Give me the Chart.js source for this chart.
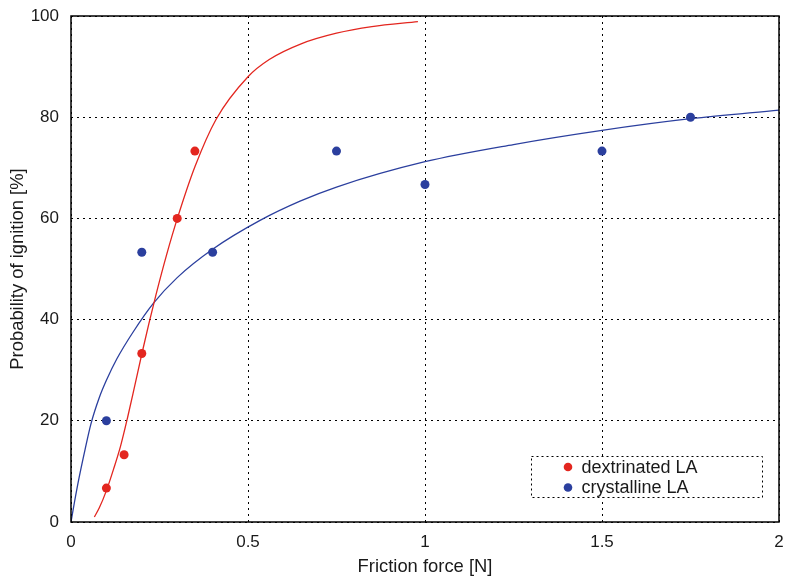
<!DOCTYPE html>
<html>
<head>
<meta charset="utf-8">
<script src="https://cdn.jsdelivr.net/npm/chart.js@4.4.1/dist/chart.umd.min.js"></script>
<style>
  html, body { margin: 0; padding: 0; background: #fff; }
  canvas { display: block; }
</style>
</head>
<body>
<canvas id="frictionChart" width="787" height="579"></canvas>
<script>
// measured points
const dextrinatedForce = [0.1, 0.15, 0.2, 0.3, 0.35];
const dextrinatedProb = [6.7, 13.3, 33.3, 60, 73.3];
const crystallineForce = [0.1, 0.2, 0.4, 0.75, 1.0, 1.5, 1.75];
const crystallineProb = [20, 53.3, 53.3, 73.3, 66.7, 73.3, 80];

// fitted curves
const dextrinatedFitForce = [0.066, 0.08, 0.1, 0.12, 0.14, 0.16, 0.18, 0.2, 0.22, 0.24, 0.27, 0.3, 0.35, 0.41, 0.5, 0.56, 0.65, 0.75, 0.85, 0.98];
const dextrinatedFitProb = [1.0, 2.8, 6.2, 10.4, 15.0, 20.7, 26.9, 33.2, 39.2, 44.9, 52.8, 59.9, 70.2, 79.6, 88.0, 91.4, 94.5, 96.6, 97.9, 98.9];
const crystallineFitForce = [0, 0.01, 0.023, 0.04, 0.056, 0.08, 0.1, 0.13, 0.176, 0.2325, 0.3, 0.4, 0.534, 0.647, 0.75, 1.0, 1.25, 1.5, 1.75, 2.0];
const crystallineFitProb = [0, 4.0, 8.8, 14.4, 19.3, 24.6, 28.0, 32.3, 37.6, 43.2, 48.3, 53.9, 59.6, 63.4, 66.2, 71.2, 74.6, 77.4, 79.7, 81.4];

const xTickValues = [0, 0.5, 1, 1.5, 2];
const xTickLabels = ['0', '0.5', '1', '1.5', '2'];
const yTickValues = [0, 20, 40, 60, 80, 100];
const yTickLabels = ['0', '20', '40', '60', '80', '100'];

const seriesNames = ['dextrinated LA', 'crystalline LA'];

const RED = '#e3261f';
const BLUE = '#2b3f9e';
const FONT = '"Liberation Sans", Arial, Helvetica, sans-serif';

function toPoints(xs, ys) {
  return xs.map((x, i) => ({ x: x, y: ys[i] }));
}

// box round the plot + legend in the lower right
const framePlugin = {
  id: 'frame',
  afterDatasetsDraw(chart) {
    const { ctx, chartArea: a } = chart;
    ctx.save();
    ctx.strokeStyle = '#000';
    ctx.lineWidth = 1.5;
    ctx.setLineDash([]);
    ctx.strokeRect(a.left, a.top, a.right - a.left, a.bottom - a.top);

    const bx = a.right - 247.5, by = a.bottom - 65.5, bw = 231, bh = 41;
    ctx.fillStyle = '#fff';
    ctx.fillRect(bx, by, bw, bh);
    ctx.lineWidth = 1;
    ctx.setLineDash([2, 3]);
    ctx.strokeRect(bx, by, bw, bh);
    ctx.setLineDash([]);

    const colors = [RED, BLUE];
    ctx.font = '18px ' + FONT;
    ctx.textBaseline = 'middle';
    ctx.textAlign = 'left';
    seriesNames.forEach((name, i) => {
      const cy = by + 10.5 + i * 20.5;
      ctx.fillStyle = colors[i];
      ctx.beginPath();
      ctx.arc(bx + 36.5, cy, 4.3, 0, Math.PI * 2);
      ctx.fill();
      ctx.fillStyle = '#1a1a1a';
      ctx.fillText(name, bx + 50, cy + 1);
    });
    ctx.restore();
  }
};

const ctx = document.getElementById('frictionChart').getContext('2d');

new Chart(ctx, {
  type: 'scatter',
  data: {
    datasets: [
      {
        label: seriesNames[0],
        data: toPoints(dextrinatedForce, dextrinatedProb),
        backgroundColor: RED,
        borderWidth: 0,
        pointRadius: 4.5,
        showLine: false
      },
      {
        label: seriesNames[1],
        data: toPoints(crystallineForce, crystallineProb),
        backgroundColor: BLUE,
        borderWidth: 0,
        pointRadius: 4.5,
        showLine: false
      },
      {
        label: seriesNames[0] + ' fit',
        data: toPoints(dextrinatedFitForce, dextrinatedFitProb),
        borderColor: RED,
        borderWidth: 1.3,
        pointRadius: 0,
        showLine: true,
        cubicInterpolationMode: 'monotone'
      },
      {
        label: seriesNames[1] + ' fit',
        data: toPoints(crystallineFitForce, crystallineFitProb),
        borderColor: BLUE,
        borderWidth: 1.3,
        pointRadius: 0,
        showLine: true,
        cubicInterpolationMode: 'monotone'
      }
    ]
  },
  options: {
    responsive: false,
    animation: false,
    layout: { padding: { left: 0, right: 8, top: 16, bottom: 0 } },
    plugins: {
      legend: { display: false },
      tooltip: { enabled: false }
    },
    scales: {
      x: {
        type: 'linear',
        min: 0,
        max: 2,
        afterBuildTicks: (scale) => { scale.ticks = xTickValues.map(v => ({ value: v })); },
        afterFit: (scale) => {
          scale.height = 57;
          scale.paddingLeft = 0;
          scale.paddingRight = 0;
        },
        ticks: {
          padding: 10,
          color: '#1a1a1a',
          font: { family: FONT, size: 17 },
          callback: (v, i) => xTickLabels[i]
        },
        grid: { color: '#000', lineWidth: 1, drawTicks: false },
        border: { display: false, dash: [2, 4] },
        title: {
          display: true,
          text: 'Friction force [N]',
          color: '#1a1a1a',
          font: { family: FONT, size: 18.4, lineHeight: 1 },
          padding: { top: 0, bottom: 3 }
        }
      },
      y: {
        type: 'linear',
        min: 0,
        max: 100,
        afterBuildTicks: (scale) => { scale.ticks = yTickValues.map(v => ({ value: v })); },
        afterFit: (scale) => {
          scale.width = 71;
          scale.paddingTop = 0;
          scale.paddingBottom = 0;
        },
        ticks: {
          padding: 12,
          color: '#1a1a1a',
          font: { family: FONT, size: 17 },
          callback: (v, i) => yTickLabels[i]
        },
        grid: { color: '#000', lineWidth: 1, drawTicks: false },
        border: { display: false, dash: [2, 4] },
        title: {
          display: true,
          text: 'Probability of ignition [%]',
          color: '#1a1a1a',
          font: { family: FONT, size: 18.4, lineHeight: 1 },
          padding: { top: 9, bottom: 0 }
        }
      }
    }
  },
  plugins: [framePlugin]
});
</script>
</body>
</html>
